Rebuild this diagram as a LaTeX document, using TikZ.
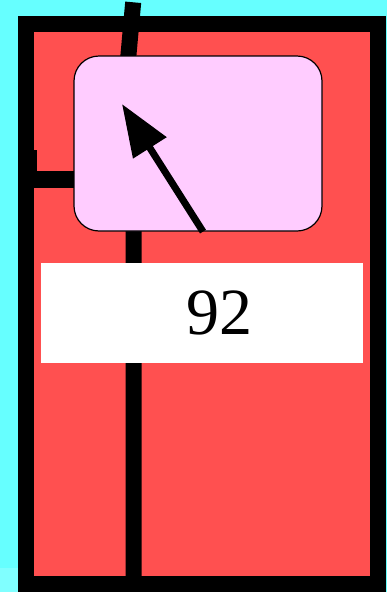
\documentclass[tikz,border=0pt]{standalone}
\usepackage{fontspec}
\setmainfont{Liberation Serif}
\usetikzlibrary{arrows.meta, positioning, calc}

\definecolor{bgcyan}{HTML}{66FFFF}
\definecolor{bgcyanlight}{HTML}{80FFFF}
\definecolor{framered}{HTML}{FF5050}
\definecolor{boxpink}{HTML}{FFCCFF}

\begin{document}
\begin{tikzpicture}[
		x=1pt, y=-1pt,
		% Define styles
		framebox/.style={rectangle, draw=black, line width=16pt, fill=framered, minimum width=352pt, minimum height=560pt, inner sep=0pt},
		pinkbox/.style={rectangle, draw=black, line width=1.2pt, rounded corners=25pt, fill=boxpink, minimum width=248pt, minimum height=175pt, inner sep=0pt},
		labelbox/.style={rectangle, fill=white, minimum width=322pt, minimum height=100pt, inner sep=0pt},
		valuetext/.style={font=\fontsize{66}{70}\selectfont, inner sep=0pt},
		stemline/.style={line width=16pt, draw=black},
		pointarrow/.style={-{Triangle[length=52pt, width=38pt]}, line width=7pt, draw=black}
		]
		
		% Background and size
		\useasboundingbox (0,0) rectangle (387,592);
		\fill[bgcyan] (0,0) rectangle (387,592);
		\fill[bgcyanlight] (0,568) rectangle (18,592);
		
		% Red frame
		\node[framebox] (frame) at (202,304) {};
		
		% Vertical stem and side bar
		\coordinate (stemtop) at (133.2,2.3);
		\coordinate (stembend) at (128,60);
		\coordinate (stemlow) at (133.5,231);
		\draw[stemline] (stemtop) -- (stembend) -- (stemlow) -- (stemlow |- frame.south);
		\coordinate (barleft) at (26,179.5);
		\coordinate (barright) at (90,179.5);
		\draw[line width=17pt] (barleft) -- (barright);
		\draw[line width=4pt] (35,150) -- (35,172);
		
		% Pink box with arrow
		\node[pinkbox] (panel) at (198,143.5) {};
		\coordinate (tip) at (122,104);
		\draw[pointarrow] ([xshift=5pt]panel.south) -- (tip);
		
		% White label
		\node[labelbox] (label) at (202,313) {};
		\node[valuetext] (value) at (219,313) {92};
		
	\end{tikzpicture}
\end{document}
